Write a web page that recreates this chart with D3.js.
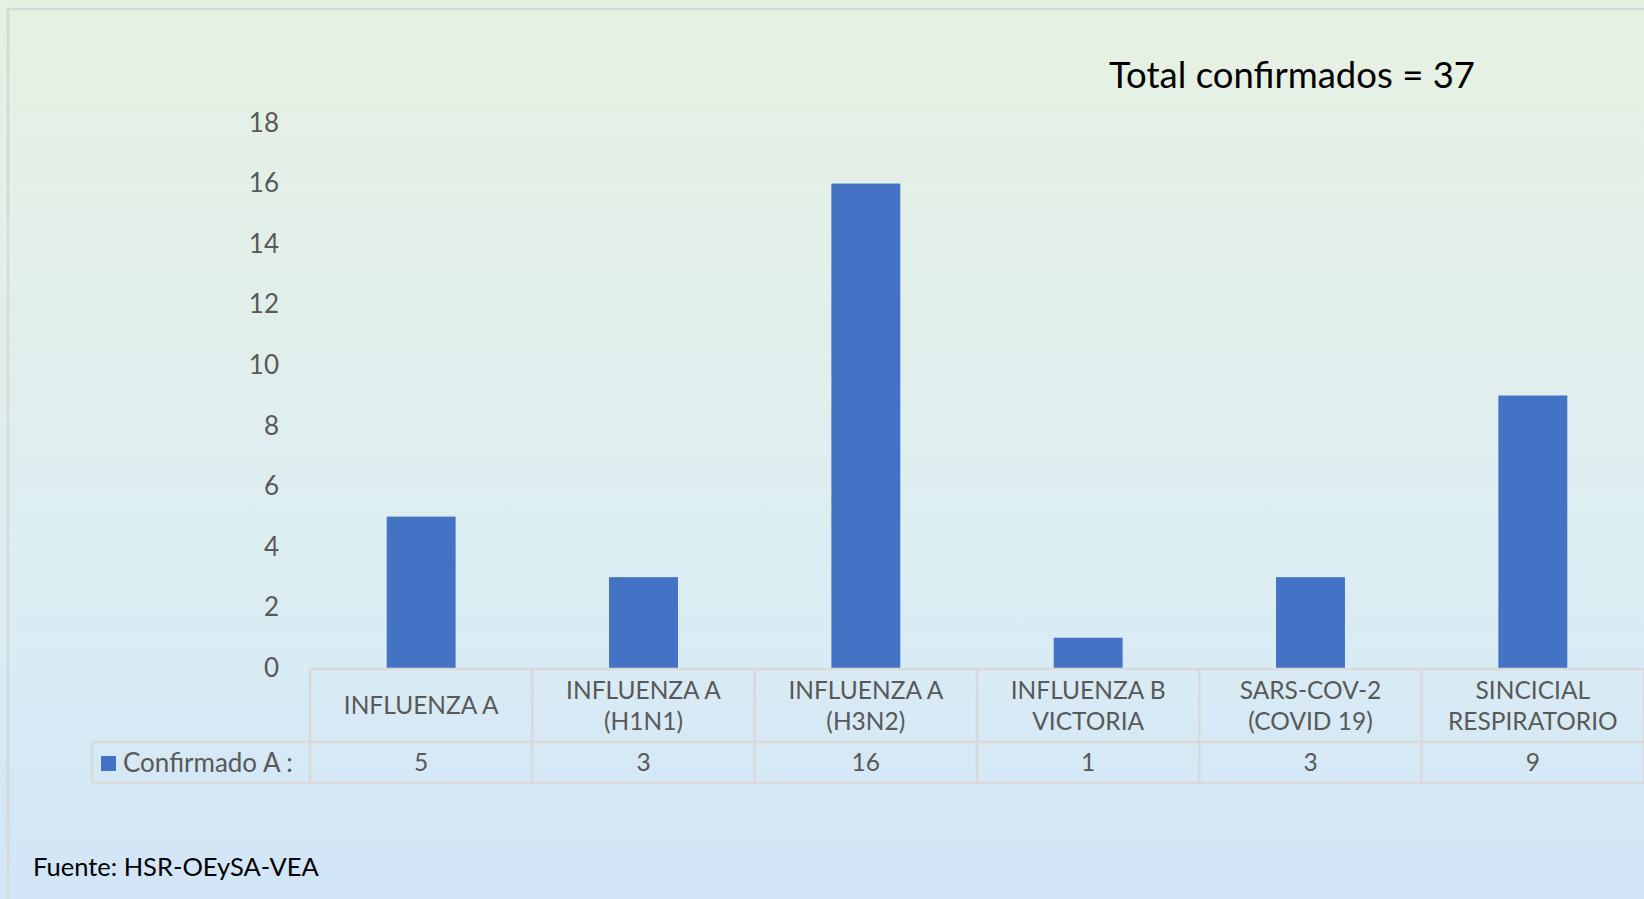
<!DOCTYPE html>
<html>
<head>
<meta charset="utf-8">
<script src="https://cdn.jsdelivr.net/npm/d3@7"></script>
<style>
  html, body { margin: 0; padding: 0; overflow: hidden; }
  svg { display: block; font-family: Lato, "Open Sans", sans-serif; }
</style>
</head>
<body>
<div id="chart"></div>
<script>
// data
var categories = [
    ["INFLUENZA A"],
    ["INFLUENZA A", "(H1N1)"],
    ["INFLUENZA A", "(H3N2)"],
    ["INFLUENZA B", "VICTORIA"],
    ["SARS-COV-2", "(COVID 19)"],
    ["SINCICIAL", "RESPIRATORIO"]
];
var values = [5, 3, 16, 1, 3, 9];
var yTicks = [0, 2, 4, 6, 8, 10, 12, 14, 16, 18];
var seriesName = "Confirmado A :";
var title = "Total confirmados = 37";
var source = "Fuente: HSR-OEySA-VEA";

var width = 1644,
    height = 899;

var svg = d3.select("#chart").append("svg")
    .attr("width", width)
    .attr("height", height);

// background gradient, green at the top to blue at the bottom
var grad = svg.append("defs").append("linearGradient")
    .attr("id", "bg")
    .attr("x1", 0).attr("y1", 0).attr("x2", 0).attr("y2", 1);
grad.append("stop").attr("offset", "0%").attr("stop-color", "#e7f1e2");
grad.append("stop").attr("offset", "60%").attr("stop-color", "#ddeef2");
grad.append("stop").attr("offset", "100%").attr("stop-color", "#d1e5f7");

svg.append("rect")
    .attr("width", width)
    .attr("height", height)
    .attr("fill", "url(#bg)");

// frame (top and left edges show)
svg.append("path")
    .attr("d", "M8," + height + "V9H" + width)
    .attr("fill", "none")
    .attr("stroke", "#d6d9d6")
    .attr("stroke-width", 2.5);

var plotLeft = 310, plotRight = 1644,
    plotTop = 123, plotBottom = 668;

var x = d3.scaleBand()
    .domain(d3.range(categories.length))
    .range([plotLeft, plotRight])
    .paddingInner(0.69)
    .paddingOuter(0.345);

var y = d3.scaleLinear()
    .domain([0, 18])
    .range([plotBottom, plotTop]);

// y axis, labels only
var yAxis = svg.append("g")
    .attr("transform", "translate(" + 279 + ",0)")
    .call(d3.axisLeft(y).tickValues(yTicks).tickSize(0).tickPadding(0));
yAxis.select(".domain").remove();
yAxis.selectAll("text")
    .attr("fill", "#595959")
    .style("font-size", "26px")
    .style("font-family", "Lato, sans-serif");

// bars
svg.append("g").selectAll("rect")
    .data(values)
    .enter().append("rect")
    .attr("x", function(d, i) { return x(i); })
    .attr("width", x.bandwidth())
    .attr("y", function(d) { return y(d); })
    .attr("height", function(d) { return y(0) - y(d); })
    .attr("fill", "#4472c4");

// data table under the chart
var rowTop = 669, rowMid = 742, rowBot = 783, legendLeft = 92;
var step = x.step();
var edges = d3.range(categories.length + 1).map(function(i) {
    return plotLeft + i * step;
});
var grid = svg.append("g")
    .attr("stroke", "#d9d9d9")
    .attr("stroke-width", 2.5)
    .attr("fill", "none");

grid.append("line").attr("x1", plotLeft).attr("x2", plotRight).attr("y1", rowTop).attr("y2", rowTop);
grid.append("line").attr("x1", legendLeft).attr("x2", plotRight).attr("y1", rowMid).attr("y2", rowMid);
grid.append("line").attr("x1", legendLeft).attr("x2", plotRight).attr("y1", rowBot).attr("y2", rowBot);
grid.append("line").attr("x1", legendLeft).attr("x2", legendLeft).attr("y1", rowMid).attr("y2", rowBot);
grid.selectAll("line.col")
    .data(edges)
    .enter().append("line")
    .attr("class", "col")
    .attr("x1", function(d) { return d; })
    .attr("x2", function(d) { return d; })
    .attr("y1", rowTop)
    .attr("y2", rowBot);

// category labels
var catG = svg.append("g")
    .attr("fill", "#595959")
    .attr("text-anchor", "middle")
    .style("font-size", "24.5px");
categories.forEach(function(lines, i) {
    var cx = x(i) + x.bandwidth() / 2;
    var cy = (rowTop + rowMid) / 2;
    var t = catG.append("text").attr("x", cx);
    lines.forEach(function(s, j) {
        t.append("tspan")
            .attr("x", cx)
            .attr("y", cy + (j - (lines.length - 1) / 2) * 31)
            .attr("dy", "0.35em")
            .text(s);
    });
});

// values row
svg.append("g")
    .attr("fill", "#595959")
    .attr("text-anchor", "middle")
    .style("font-size", "24.5px")
    .selectAll("text")
    .data(values)
    .enter().append("text")
    .attr("x", function(d, i) { return x(i) + x.bandwidth() / 2; })
    .attr("y", (rowMid + rowBot) / 2)
    .attr("dy", "0.35em")
    .text(function(d) { return d; });

// legend key in the table
svg.append("rect")
    .attr("x", 101).attr("y", 756)
    .attr("width", 15).attr("height", 15)
    .attr("fill", "#4472c4");
svg.append("text")
    .attr("x", 123)
    .attr("y", (rowMid + rowBot) / 2)
    .attr("dy", "0.35em")
    .attr("fill", "#595959")
    .style("font-size", "26px")
    .text(seriesName);

// title and source
svg.append("text")
    .attr("x", 1109)
    .attr("y", 88)
    .attr("fill", "#000")
    .style("font-size", "36.5px")
    .text(title);

svg.append("text")
    .attr("x", 33)
    .attr("y", 876)
    .attr("fill", "#000")
    .style("font-size", "25.5px")
    .text(source);
</script>
</body>
</html>
